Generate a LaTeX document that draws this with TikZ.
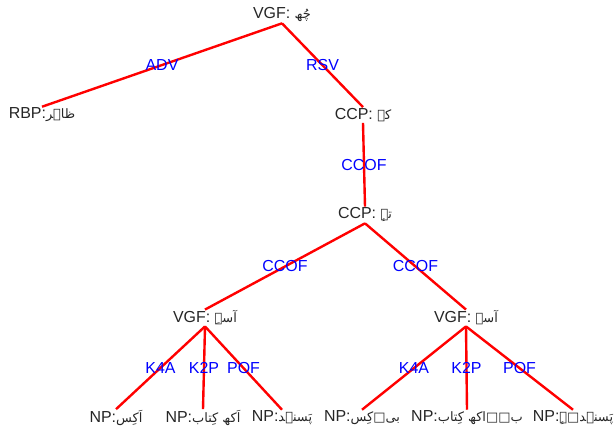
\documentclass[tikz,border=0pt]{standalone}
\usepackage{fontspec}
\setmainfont{Liberation Sans}
\newfontfamily\urdufont[Script=Arabic]{DejaVu Sans}
\TeXXeTstate=1
\newcommand\ur[1]{{\urdufont\fontsize{13}{15}\selectfont\beginR #1\endR}}
\begin{document}
\begin{tikzpicture}[x=1bp,y=-1bp,
  tnode/.style={inner sep=1bp, font=\fontsize{16}{18}\selectfont, text=black!85},
  link/.style={red, line width=2.4bp},
  rel/.style={midway, inner sep=0pt, text=blue, font=\fontsize{16}{18}\selectfont}]
\useasboundingbox (0,0) rectangle (614,433);
\fill[white] (0,0) rectangle (614,433);

% tree nodes
\node[tnode] (root) at (282,15) {VGF: \ur{چُھ}};
\node[tnode] (rbp)  at (42,115) {RBP:\ur{ظاہر}};
\node[tnode] (ccpa) at (363,115) {CCP: \ur{کہ}};
\node[tnode] (ccpb) at (365,215) {CCP: \ur{تہٕ}};
\node[tnode] (vgfl) at (205,318) {VGF: \ur{آسہِ}};
\node[tnode] (vgfr) at (466,318) {VGF: \ur{آسہ}};

\node[tnode] (np1) at (116,418) {NP:\ur{اَکِس}};
\node[tnode] (np2) at (203,418) {NP:\ur{اَکھ کِتاب}};
\node[tnode] (np3) at (282,418) {NP:\ur{پَسنٛد}};
\node[tnode] (np4) at (362,418) {NP:\ur{بی□کِس}};
\node[tnode] (np5) at (467,418) {NP:\ur{ب□□اکھ کِتاب}};
\node[tnode] (np6) at (573,418) {NP:\ur{پَسنٛد□ہٕ}};

% dependency links
\draw[link] (root.south) -- node[rel]{ADV} (rbp.north);
\draw[link] (root.south) -- node[rel]{RSV} (ccpa.north);
\draw[link] (ccpa.south) -- node[rel]{CCOF} (ccpb.north);
\draw[link] (ccpb.south) -- node[rel]{CCOF} (vgfl.north);
\draw[link] (ccpb.south) -- node[rel]{CCOF} (vgfr.north);
\draw[link] (vgfl.south) -- node[rel]{K4A} (np1.north);
\draw[link] (vgfl.south) -- node[rel]{K2P} (np2.north);
\draw[link] (vgfl.south) -- node[rel]{POF} (np3.north);
\draw[link] (vgfr.south) -- node[rel]{K4A} (np4.north);
\draw[link] (vgfr.south) -- node[rel]{K2P} (np5.north);
\draw[link] (vgfr.south) -- node[rel]{POF} (np6.north);
\end{tikzpicture}
\end{document}
